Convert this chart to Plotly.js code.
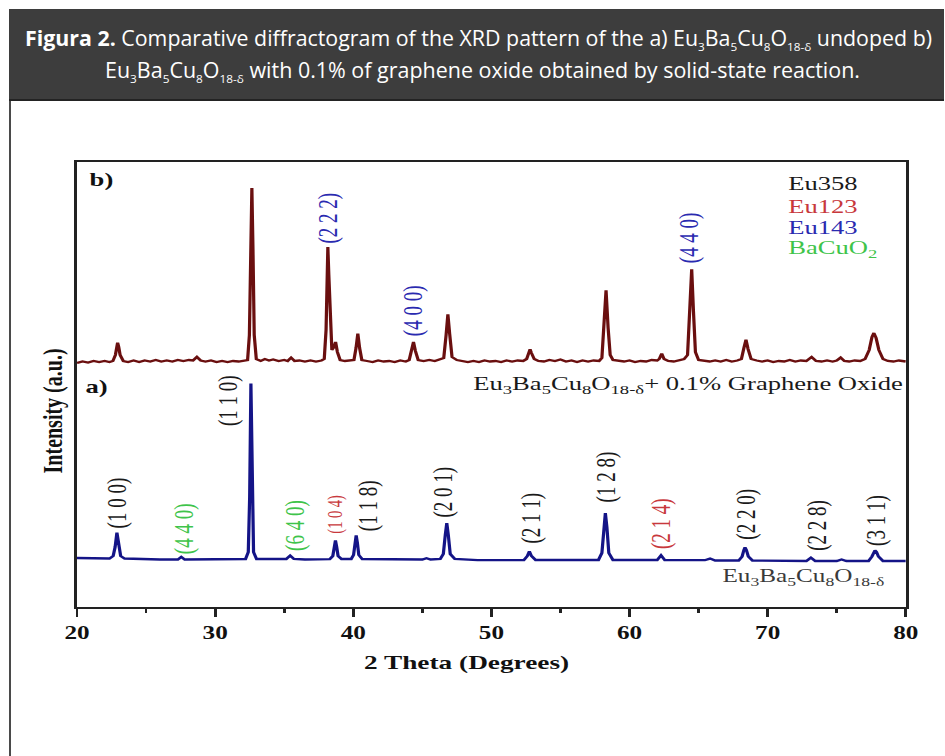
<!DOCTYPE html>
<html>
<head>
<meta charset="utf-8">
<script src="https://cdn.plot.ly/plotly-3.0.1.min.js"></script>
<style>
  html, body { margin: 0; padding: 0; background: #ffffff; }
  #page { position: relative; width: 945px; height: 756px; overflow: hidden; background: #ffffff; }
  #frame { position: absolute; left: 9px; top: 9px; width: 2px; height: 760px; background: #4a4a4a; }
  #hdr { position: absolute; left: 9px; top: 9px; width: 935px; height: 90px; background: #3d3d3d;
         border-bottom: 2px solid #232323; }
  .hline { position: absolute; white-space: nowrap; color: #ffffff; font-family: "Open Sans", "Noto Sans", sans-serif;
           font-size: 21px; line-height: 21px; transform-origin: 0 0; }
  .hline b { font-weight: 700; }
  .hline sub { font-size: 0.55em; vertical-align: -0.4em; line-height: 0; }
  #plot { position: absolute; left: 0; top: 0; width: 675px; height: 756px; transform: scaleX(1.4); transform-origin: 0 0; }
</style>
</head>
<body>
<div id="page">
  <div id="plot"></div>
  <div id="frame"></div>
  <div id="hdr"></div>
  <div class="hline" id="line1"><b>Figura 2.</b> Comparative diffractogram of the XRD pattern of the a) Eu<sub>3</sub>Ba<sub>5</sub>Cu<sub>8</sub>O<sub>18-δ</sub> undoped b)</div>
  <div class="hline" id="line2">Eu<sub>3</sub>Ba<sub>5</sub>Cu<sub>8</sub>O<sub>18-δ</sub> with 0.1% of graphene oxide obtained by solid-state reaction.</div>
</div>
<script>
// (a) Eu3Ba5Cu8O18-δ undoped: 2θ (degrees) and intensity (a.u.)
const twoThetaA = [
  20.0,21.0,22.0,22.35,22.62,22.76,22.89,23.02,23.16,23.45,
  24.5,26.0,27.3,27.55,27.8,29.5,31.5,32.2,32.4,32.5,
  32.59,32.68,32.78,33.0,33.5,35.15,35.43,35.7,36.5,38.3,
  38.52,38.62,38.71,38.8,38.9,39.15,39.85,40.02,40.12,40.21,
  40.3,40.4,40.65,42.5,45.0,45.3,45.6,46.3,46.52,46.66,
  46.77,46.88,47.02,47.35,49.0,52.35,52.6,52.75,52.9,53.2,
  55.0,57.75,58.0,58.14,58.25,58.36,58.5,58.8,60.5,62.0,
  62.28,62.55,64.0,65.45,65.83,66.2,67.9,68.15,68.28,68.36,
  68.46,68.6,68.9,70.5,72.8,73.13,73.45,75.0,75.35,75.7,
  77.3,77.55,77.68,77.77,77.88,78.02,78.35,80.0];
const intensityA = [
  49,48.5,48.5,48.5,51,60,74.4,60,51,48.5,
  48,47.5,47.5,50,47.5,47.5,47.5,48,55,110,
  223.4,110,55,48,48,48,51.4,48,47.5,47.8,
  51,60,66.7,60,51,48,48,52,64,71.7,
  64,52,48,47.5,47.5,48.8,47.5,48,53,72,
  84,72,53,48,46.8,47,51,55.7,51,47,
  47,47,54,80,94,80,54,47,46.8,47,
  51.7,47,46.8,46.8,48.4,46.5,46.5,50.5,57,59.7,
  57,50.5,46.5,46.3,46,49.4,46,46,47.5,46,
  46,50.5,55,56.7,55,50.5,46,46];

// (b) Eu3Ba5Cu8O18-δ + 0.1% graphene oxide: 2θ (degrees) and intensity (a.u.)
const twoThetaB = [
  20.0,20.4,20.8,21.2,21.6,22.0,22.35,
  22.6,22.78,22.88,22.94,23.02,23.12,23.35,
  23.7,24.1,24.5,24.9,25.3,25.7,26.1,26.5,26.9,27.3,27.7,28.1,28.4,28.68,28.95,29.3,29.7,30.1,30.5,30.9,31.3,31.7,32.1,
  32.35,32.48,32.57,32.66,32.74,32.83,32.98,
  33.3,33.6,33.9,34.2,34.6,35.0,35.25,35.5,35.75,36.1,36.5,36.9,37.3,37.7,
  37.9,38.03,38.1,38.16,38.23,38.32,38.45,38.6,38.72,38.85,39.05,39.4,39.8,
  40.05,40.2,40.33,40.46,40.62,41.0,41.4,41.8,42.2,42.6,43.0,43.4,43.8,
  44.05,44.22,44.36,44.5,44.7,45.1,45.5,45.9,46.3,
  46.55,46.72,46.85,46.98,47.15,47.5,47.9,48.3,48.7,49.1,49.5,49.9,50.3,50.7,51.1,51.5,51.9,52.3,
  52.55,52.7,52.8,52.9,53.1,53.4,53.8,54.2,54.6,55.0,55.4,55.8,56.2,56.6,57.0,57.4,57.8,
  58.0,58.15,58.3,58.45,58.6,58.8,59.2,59.6,60.0,60.4,60.8,61.2,61.6,62.0,
  62.15,62.33,62.5,62.8,63.2,63.6,63.95,
  64.2,64.35,64.5,64.63,64.77,65.0,65.4,65.8,66.2,66.6,67.0,67.4,67.8,
  68.1,68.28,68.43,68.58,68.8,69.2,69.6,70.0,70.4,70.8,71.2,71.6,72.0,72.4,72.8,
  73.18,73.5,73.9,74.3,74.7,75.0,75.28,75.55,75.9,76.3,76.7,
  77.05,77.35,77.55,77.69,77.85,78.05,78.35,78.7,79.1,79.5,80.0];
const intensityB = [
  47,48.5,47.5,49,48,49,48,
  49,55,64,67.4,63,55,49,
  48,49.5,48,49.5,48.5,50,48.5,49.5,48.5,50,49,50,49.5,53,49.5,48.5,49.5,48,49,48,49,48.5,49,
  50,75,160,222,160,75,51,
  49,51,49.5,50.5,49,50,49,52.4,49,49.5,48.5,49.5,48.5,49.5,
  51,80,135,163,135,90,60,63,68,58,50,49,49.5,
  50,62,76.4,62,50,49,48,49.5,48.5,49,48,49.5,48.5,
  50,59,68,59,50,49,50,49,50.5,
  52,75,95.7,76,53,50,49,48,49,48,49.5,48.5,49,48,49.5,48.5,49.5,49,
  51,57,60.7,57,51,49,48.5,50,49,50.5,48.5,49.5,48,49.5,48.5,49.5,49,
  52,80,119.7,82,55,50,49,48.5,49.5,48,49,48.5,50,49.5,
  51,56.4,51,49,48.5,50,51,
  55,95,140.7,98,58,50,49.5,48.5,49.5,48.5,50,48.5,49.5,
  51,62,70.4,61,51,49.5,48.5,49.5,48,49,48.5,50,48.5,49.5,49,
  53,49,48.5,49.5,48.5,49.5,52.4,49,48.5,49.5,49,
  51,60,73,77,72,60,51,49,48.5,49.5,48.5];

// Miller indices of the indexed reflections and the phase each belongs to
const hklA = ['(1 0 0)','(4 4 0)','(1 1 0)','(6 4 0)','(1 0 4)','(1 1 8)','(2 0 1)','(2 1 1)','(1 2 8)','(2 1 4)','(2 2 0)','(2 2 8)','(3 1 1)'];
const hklA2Theta = [22.9,27.79,31.02,35.87,38.69,41.17,46.53,52.92,58.35,62.33,68.48,73.66,77.93];
const hklAPhase = ['Eu358','BaCuO2','Eu358','BaCuO2','Eu123','Eu358','Eu358','Eu358','Eu358','Eu123','Eu358','Eu358','Eu358'];
const hklB = ['(2 2 2)','(4 0 0)','(4 4 0)'];
const hklB2Theta = [38.21,44.41,64.33];
const hklBPhase = ['Eu143','Eu143','Eu143'];

// Phase key
const phases = ['Eu358','Eu123','Eu143','BaCuO2'];
const phaseLabels = ['Eu358','Eu123','Eu143','BaCuO<sub>2</sub>'];

// ---- styling / placement ----
const STACK_OFFSET = 197;          // vertical shift of pattern (b)
const phaseColor = { Eu358: '#1a1a1a', Eu123: '#c8383c', Eu143: '#2a2ab0', BaCuO2: '#3ec44a' };
const labelYA = [104.2,78.7,206.7,81.7,92.7,101.7,115.2,89.2,130,83.7,92.7,81.7,86.7];
const labelYB = [389.2,296.7,369.2];
const serif = 'Liberation Serif, Times New Roman, serif';

const traces = [
  { x: twoThetaA, y: intensityA, type: 'scatter', mode: 'lines',
    line: { color: '#141487', width: 2.3 }, name: 'a' },
  { x: twoThetaB, y: intensityB.map(v => v + STACK_OFFSET), type: 'scatter', mode: 'lines',
    line: { color: '#6a0f0f', width: 2.3 }, name: 'b' }
];

const ann = [];
function hklNote(text, x, y, phase) {
  ann.push({ text: text, x: x, y: y, xref: 'x', yref: 'y', showarrow: false, textangle: -90,
    xanchor: 'center', yanchor: 'middle',
    font: { family: serif, size: text === '(1 0 4)' ? 14.5 : 19, color: phaseColor[phase] } });
}
hklA.forEach((t, i) => hklNote(t, hklA2Theta[i], labelYA[i], hklAPhase[i]));
hklB.forEach((t, i) => hklNote(t, hklB2Theta[i], labelYB[i], hklBPhase[i]));

// phase key (upper right)
const keyY = [423.4, 400.7, 379.4, 358.4];
phases.forEach((p, i) => ann.push({ text: phaseLabels[i], x: 71.32, y: keyY[i], xref: 'x', yref: 'y',
  showarrow: false, xanchor: 'left', yanchor: 'middle', font: { family: serif, size: 19, color: phaseColor[p] } }));

// panel tags and sample names
ann.push({ text: '<b>b)</b>', x: 20.72, y: 426.7, xref: 'x', yref: 'y', showarrow: false, xanchor: 'left', yanchor: 'middle',
  font: { family: serif, size: 19, color: '#111' } });
ann.push({ text: '<b>a)</b>', x: 20.38, y: 220, xref: 'x', yref: 'y', showarrow: false, xanchor: 'left', yanchor: 'middle',
  font: { family: serif, size: 19, color: '#111' } });
ann.push({ text: 'Eu<sub>3</sub>Ba<sub>5</sub>Cu<sub>8</sub>O<sub>18-δ</sub>+ 0.1% Graphene Oxide', x: 80, y: 221.7,
  xref: 'x', yref: 'y', showarrow: false, xanchor: 'right', yanchor: 'middle',
  font: { family: serif, size: 19, color: '#1a1a1a' } });
ann.push({ text: 'Eu<sub>3</sub>Ba<sub>5</sub>Cu<sub>8</sub>O<sub>18-δ</sub>', x: 72.65, y: 30,
  xref: 'x', yref: 'y', showarrow: false, xanchor: 'center', yanchor: 'middle',
  font: { family: serif, size: 18, color: '#3a3a3a' } });

// axis titles
ann.push({ text: '<b>2 Theta (Degrees)</b>', x: 0.47, y: -0.1265, xref: 'paper', yref: 'paper', showarrow: false,
  xanchor: 'center', yanchor: 'middle', font: { family: serif, size: 19.5, color: '#111' } });
ann.push({ text: '<b>Intensity (a.u.)</b>', x: -0.03, y: 0.44, xref: 'paper', yref: 'paper', showarrow: false,
  textangle: -90, xanchor: 'center', yanchor: 'middle', font: { family: serif, size: 20, color: '#111' } });

const layout = {
  width: 675, height: 756,
  margin: { l: 54.8, r: 28.4, t: 161.7, b: 149.3, pad: 0 },
  paper_bgcolor: 'rgba(0,0,0,0)', plot_bgcolor: '#ffffff',
  showlegend: false,
  xaxis: {
    range: [20, 80], tick0: 20, dtick: 10, ticks: 'outside', ticklen: 8, tickwidth: 2, tickcolor: '#222',
    showline: true, linecolor: '#222', linewidth: 2, mirror: true, showgrid: false, zeroline: false,
    tickfont: { family: serif, size: 18, color: '#111', weight: 700 },
    minor: { dtick: 5, ticks: 'outside', ticklen: 4, tickwidth: 2, tickcolor: '#222', showgrid: false }
  },
  yaxis: {
    range: [0, 445], showticklabels: false, ticks: '', showline: true, linecolor: '#222', linewidth: 2,
    mirror: true, showgrid: false, zeroline: false
  },
  annotations: ann
};

Plotly.newPlot('plot', traces, layout, { displayModeBar: false, staticPlot: true, responsive: false });

// fit the caption lines to their measured widths
function fitLine(id, left, width, top) {
  const el = document.getElementById(id);
  el.style.left = left + 'px';
  el.style.top = top + 'px';
  const w = el.getBoundingClientRect().width;
  el.style.transform = 'scaleX(' + (width / w) + ')';
}
fitLine('line1', 25, 907, 28);
fitLine('line2', 105, 755, 60);
</script>
</body>
</html>
